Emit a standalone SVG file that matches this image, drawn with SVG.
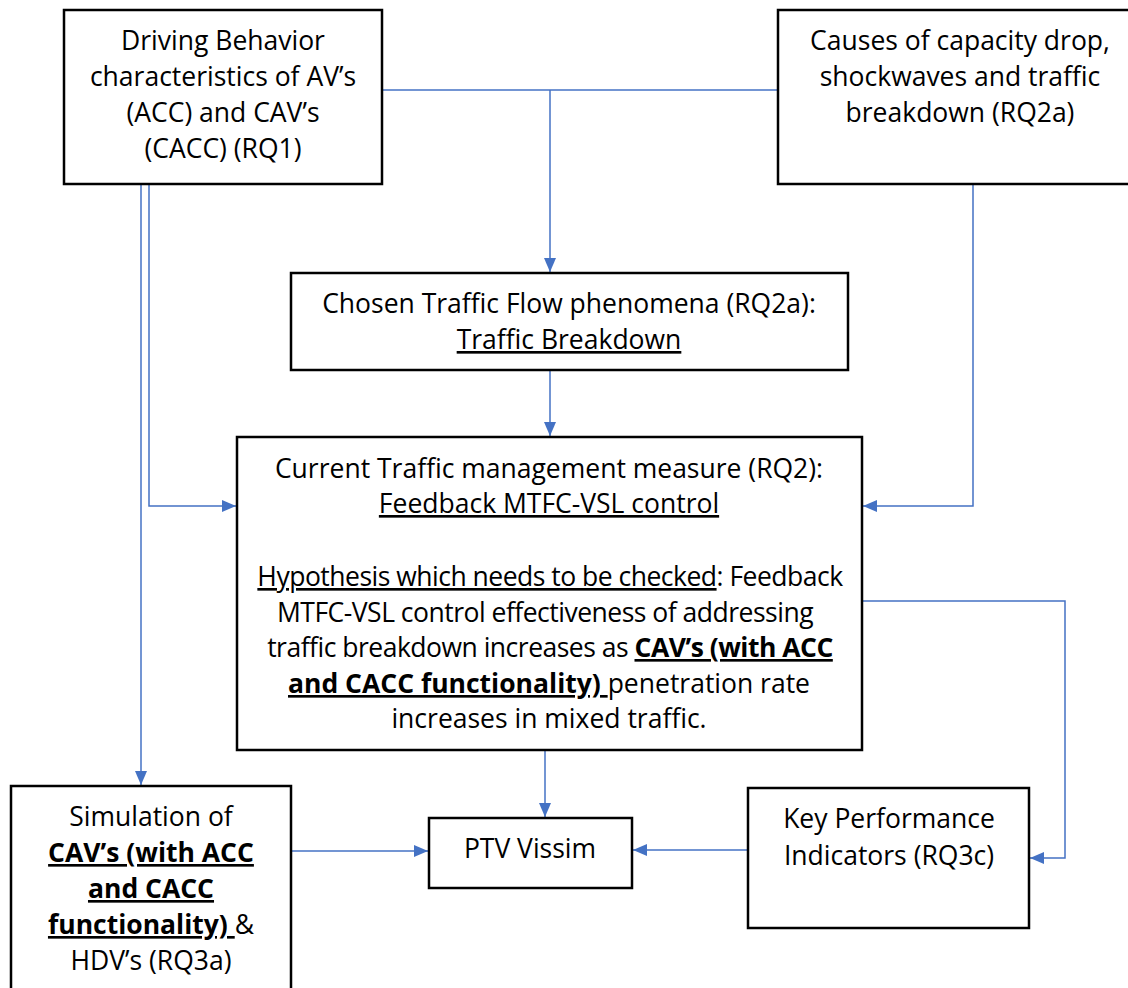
<svg xmlns="http://www.w3.org/2000/svg" width="1128" height="988" viewBox="0 0 1128 988">
<style>
.box{fill:#fff;stroke:#000;stroke-width:2.5}
.t{font-family:"Open Sans","Noto Sans",sans-serif;font-size:26.5px;fill:#000;text-anchor:middle}
.b{font-weight:bold}
.u{text-decoration:underline}
.n{letter-spacing:-0.5px}
.c{fill:none;stroke:#4472C4;stroke-width:1.5}
</style>
<defs>
<marker id="ah" markerWidth="14" markerHeight="12" refX="14" refY="6" orient="auto" markerUnits="userSpaceOnUse">
<path d="M0,0 L14,6 L0,12 Z" fill="#4472C4"/>
</marker>
</defs>
<rect width="1128" height="988" fill="#fff"/>
<g id="connectors">
<path class="c" d="M382,90 H778"/>
<path class="c" d="M550,90 V272" marker-end="url(#ah)"/>
<path class="c" d="M550,370 V436" marker-end="url(#ah)"/>
<path class="c" d="M141,184 V785" marker-end="url(#ah)"/>
<path class="c" d="M149,184 V506 H236" marker-end="url(#ah)"/>
<path class="c" d="M973,184 V506 H863" marker-end="url(#ah)"/>
<path class="c" d="M862,601 H1065 V858 H1030" marker-end="url(#ah)"/>
<path class="c" d="M545,750 V817" marker-end="url(#ah)"/>
<path class="c" d="M291,851 H428" marker-end="url(#ah)"/>
<path class="c" d="M748,850 H633" marker-end="url(#ah)"/>
</g>
<g id="n-driving">
<rect class="box" x="64" y="10" width="318" height="174"/>
<text class="t" x="223" y="50">Driving Behavior</text>
<text class="t" x="223" y="86">characteristics of AV’s</text>
<text class="t" x="223" y="122">(ACC) and CAV’s</text>
<text class="t" x="223" y="158">(CACC) (RQ1)</text>
</g>
<g id="n-causes">
<rect class="box" x="778" y="10" width="360" height="174"/>
<text class="t" x="960" y="50">Causes of capacity drop,</text>
<text class="t" x="960" y="86">shockwaves and traffic</text>
<text class="t" x="960" y="122">breakdown (RQ2a)</text>
</g>
<g id="n-chosen">
<rect class="box" x="291" y="273" width="557" height="97"/>
<text class="t" x="569" y="313">Chosen Traffic Flow phenomena (RQ2a):</text>
<text class="t u" x="569" y="349">Traffic Breakdown</text>
</g>
<g id="n-current">
<rect class="box" x="237" y="437" width="625" height="313"/>
<text class="t" x="549" y="478">Current Traffic management measure (RQ2):</text>
<text class="t u" x="549" y="513">Feedback MTFC-VSL control</text>
<text class="t n" x="550" y="586"><tspan class="u">Hypothesis which needs to be checked</tspan>: Feedback</text>
<text class="t n" x="545" y="622">MTFC-VSL control effectiveness of addressing</text>
<text class="t n" x="550" y="657">traffic breakdown increases as <tspan class="b u">CAV’s (with ACC</tspan></text>
<text class="t" x="549" y="693"><tspan class="b u">and CACC functionality) </tspan>penetration rate</text>
<text class="t" x="549" y="728">increases in mixed traffic.</text>
</g>
<g id="n-sim">
<rect class="box" x="11" y="786" width="280" height="210"/>
<text class="t" x="151" y="826">Simulation of</text>
<text class="t b u" x="151" y="862">CAV’s (with ACC</text>
<text class="t b u" x="151" y="898">and CACC</text>
<text class="t" x="151" y="934"><tspan class="b u">functionality) </tspan>&amp;</text>
<text class="t" x="151" y="970">HDV’s (RQ3a)</text>
</g>
<g id="n-ptv">
<rect class="box" x="429" y="818" width="203" height="70"/>
<text class="t" x="530" y="858">PTV Vissim</text>
</g>
<g id="n-kpi">
<rect class="box" x="748" y="788" width="281" height="140"/>
<text class="t" x="889" y="828">Key Performance</text>
<text class="t" x="889" y="865">Indicators (RQ3c)</text>
</g>
</svg>
